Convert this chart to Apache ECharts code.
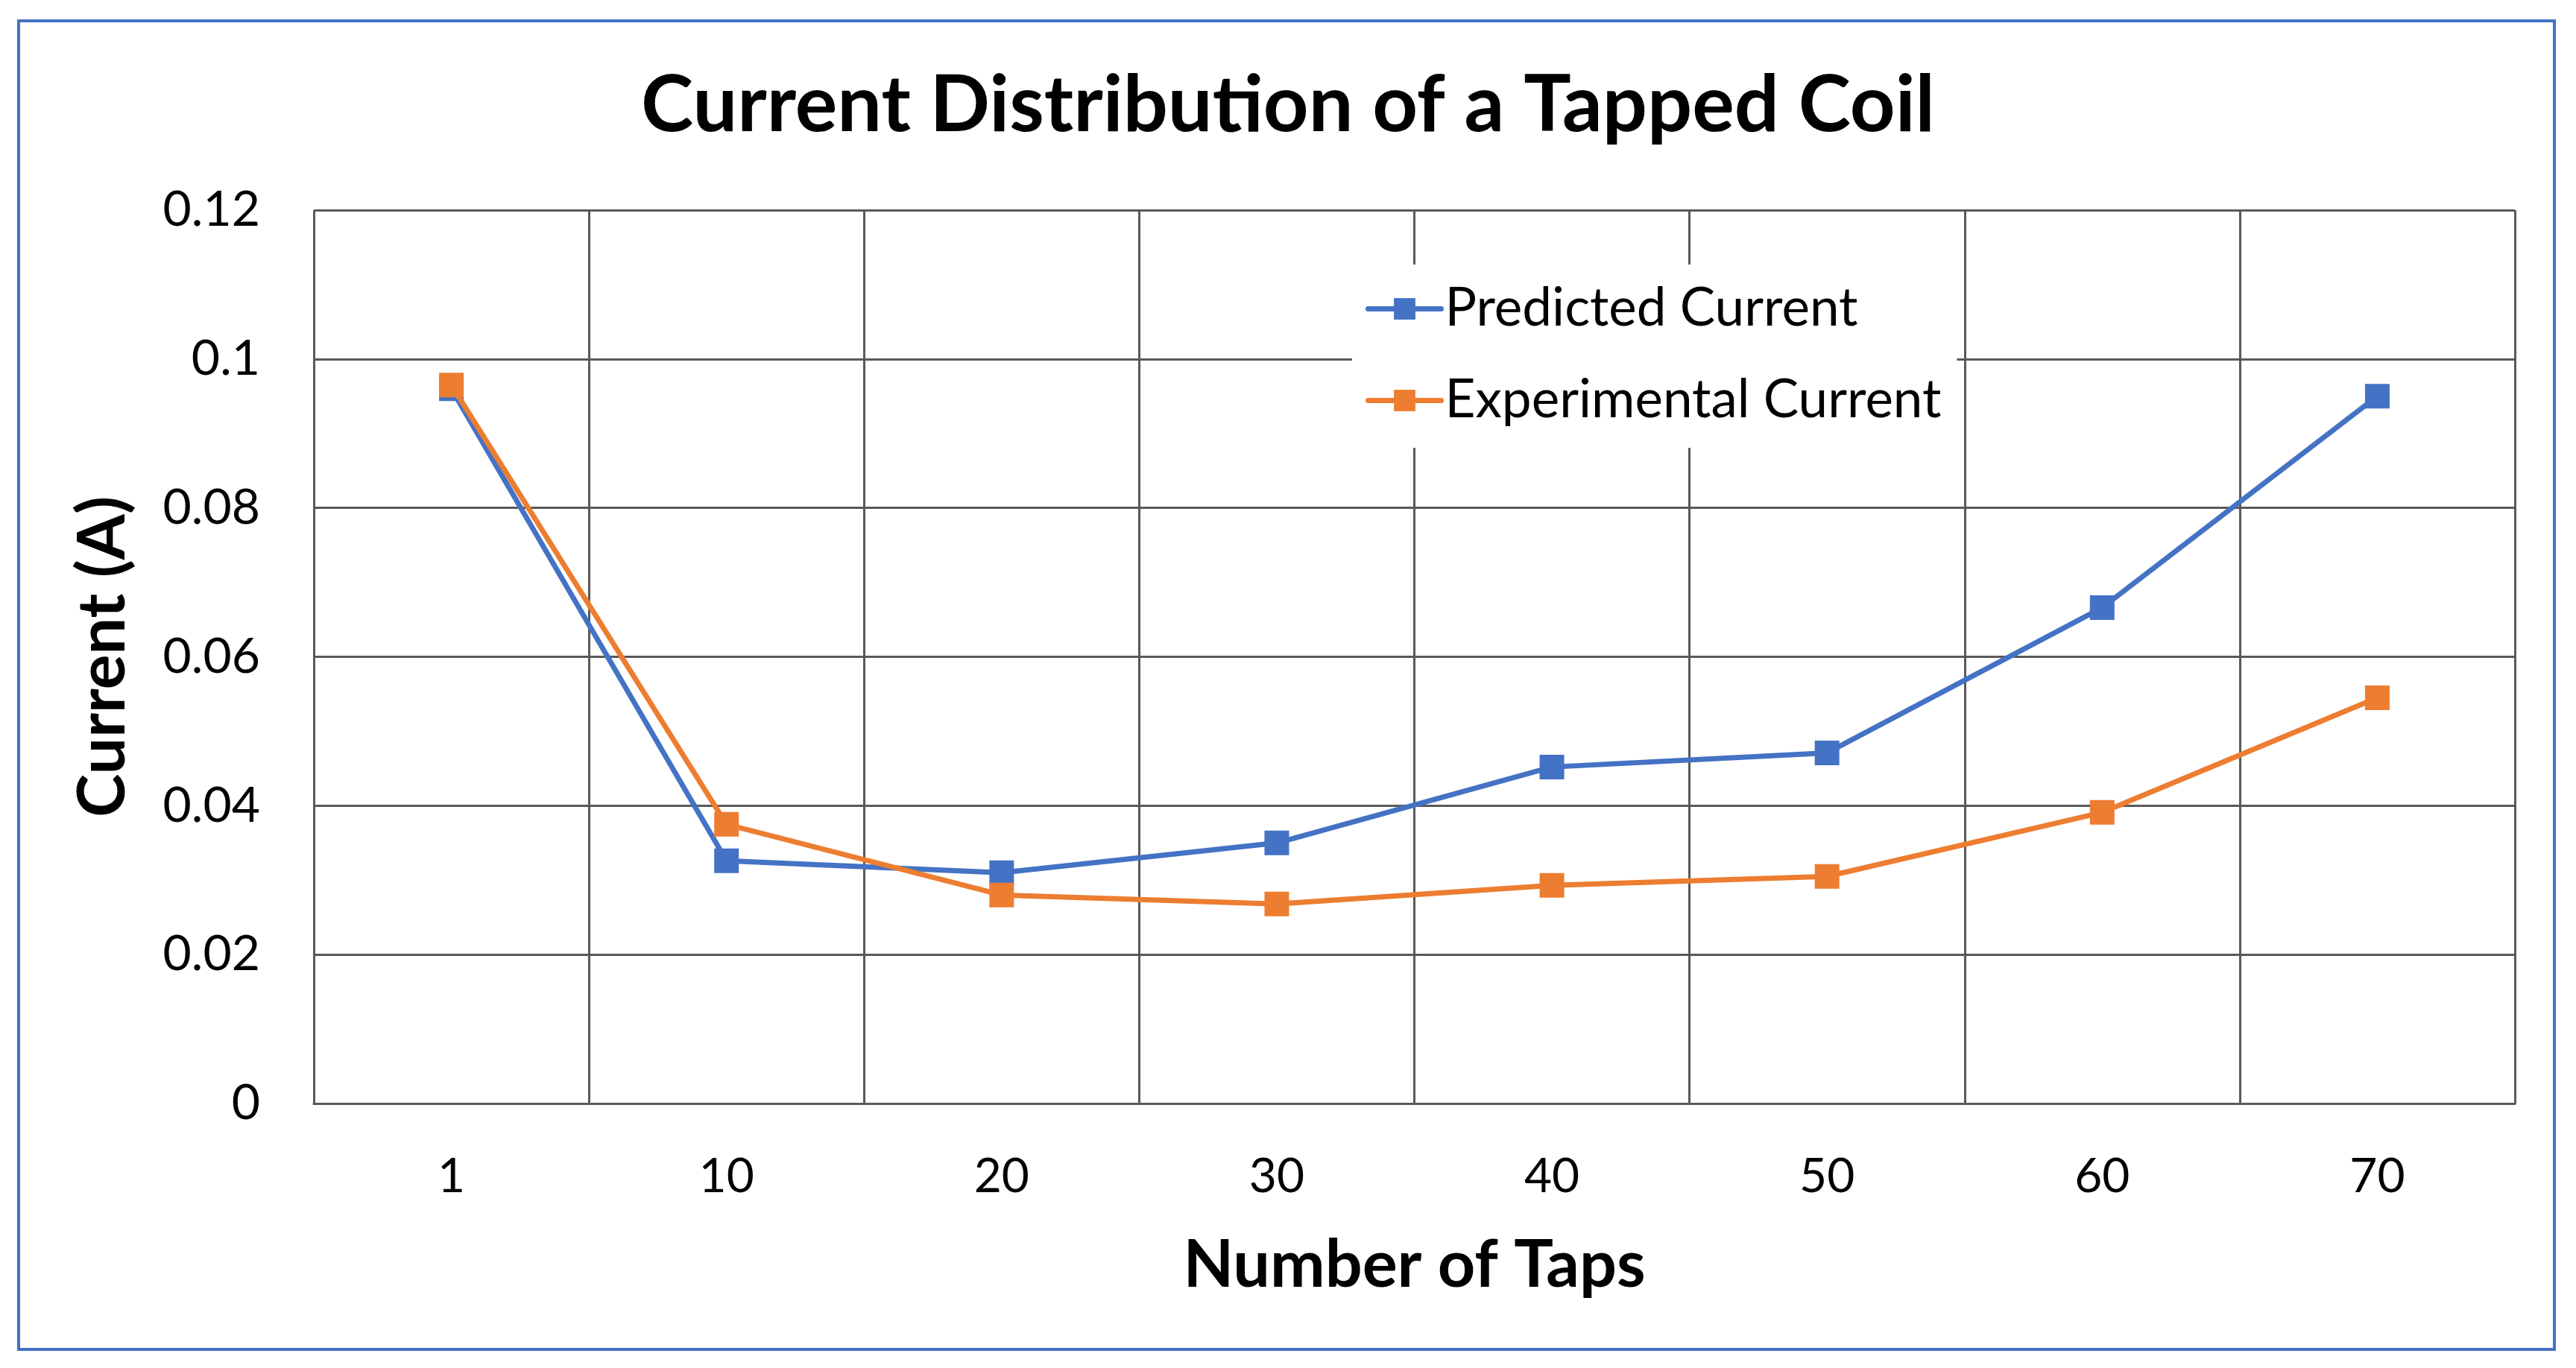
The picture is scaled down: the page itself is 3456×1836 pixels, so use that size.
<!DOCTYPE html>
<html>
<head>
<meta charset="utf-8">
<script src="https://cdn.jsdelivr.net/npm/echarts@6/dist/echarts.min.js"></script>
<style>
html,body{margin:0;padding:0;background:#fff;}
#chart{width:3456px;height:1836px;}
</style>
</head>
<body>
<div id="chart"></div>
<script>
const categories = ['1', '10', '20', '30', '40', '50', '60', '70'];
const predictedCurrent = [0.0960, 0.0326, 0.0310, 0.0350, 0.0452, 0.0471, 0.0666, 0.0950];
const experimentalCurrent = [0.0965, 0.0375, 0.0280, 0.0268, 0.0293, 0.0305, 0.0391, 0.0545];
const seriesNames = ['Predicted Current', 'Experimental Current'];
const titleText = 'Current Distribution of a Tapped Coil';
const xAxisName = 'Number of Taps';
const yAxisName = 'Current (A)';

const FONT = 'Lato, "Open Sans", sans-serif';
const GRID_COLOR = '#595959';

const chart = echarts.init(document.getElementById('chart'), null, {renderer: 'canvas'});
chart.setOption({
  backgroundColor: '#ffffff',
  animation: false,
  title: {
    text: titleText,
    left: 'center',
    top: 84,
    textStyle: {fontFamily: FONT, fontWeight: 'bold', fontSize: 106, color: '#000'}
  },
  graphic: [{
    type: 'rect',
    shape: {x: 25, y: 28, width: 3402, height: 1783},
    style: {fill: 'none', stroke: '#4472C4', lineWidth: 4},
    z: 100
  }],
  legend: {
    orient: 'vertical',
    left: 1814,
    top: 355,
    padding: [24, 21, 28, 18],
    itemGap: 52,
    itemWidth: 98,
    itemHeight: 36,
    backgroundColor: '#ffffff',
    data: seriesNames,
    lineStyle: {width: 7},
    textStyle: {fontFamily: FONT, fontSize: 71, lineHeight: 70, color: '#000'},
    z: 10
  },
  grid: {left: 421, right: 82, top: 282, bottom: 355, containLabel: false},
  xAxis: {
    type: 'category',
    data: categories,
    boundaryGap: true,
    name: xAxisName,
    nameLocation: 'middle',
    nameGap: 174,
    nameTextStyle: {fontFamily: FONT, fontWeight: 'bold', fontSize: 88, color: '#000'},
    axisLine: {show: true, lineStyle: {color: GRID_COLOR, width: 3}},
    axisTick: {show: false},
    axisLabel: {fontFamily: FONT, fontSize: 64, color: '#000', margin: 66},
    splitLine: {show: true, lineStyle: {color: GRID_COLOR, width: 3}}
  },
  yAxis: {
    type: 'value',
    min: 0,
    max: 0.12,
    interval: 0.02,
    name: yAxisName,
    nameLocation: 'middle',
    nameGap: 238,
    nameTextStyle: {fontFamily: FONT, fontWeight: 'bold', fontSize: 88, color: '#000'},
    axisLine: {show: false},
    axisTick: {show: false},
    axisLabel: {fontFamily: FONT, fontSize: 66, color: '#000', margin: 72},
    splitLine: {show: true, lineStyle: {color: GRID_COLOR, width: 3}}
  },
  series: [
    {
      name: seriesNames[0],
      type: 'line',
      data: predictedCurrent,
      color: '#4472C4',
      symbol: 'rect',
      symbolSize: 33,
      lineStyle: {width: 7, cap: 'round'},
      z: 3
    },
    {
      name: seriesNames[1],
      type: 'line',
      data: experimentalCurrent,
      color: '#ED7D31',
      symbol: 'rect',
      symbolSize: 33,
      lineStyle: {width: 7, cap: 'round'},
      z: 4
    }
  ]
});
</script>
</body>
</html>
